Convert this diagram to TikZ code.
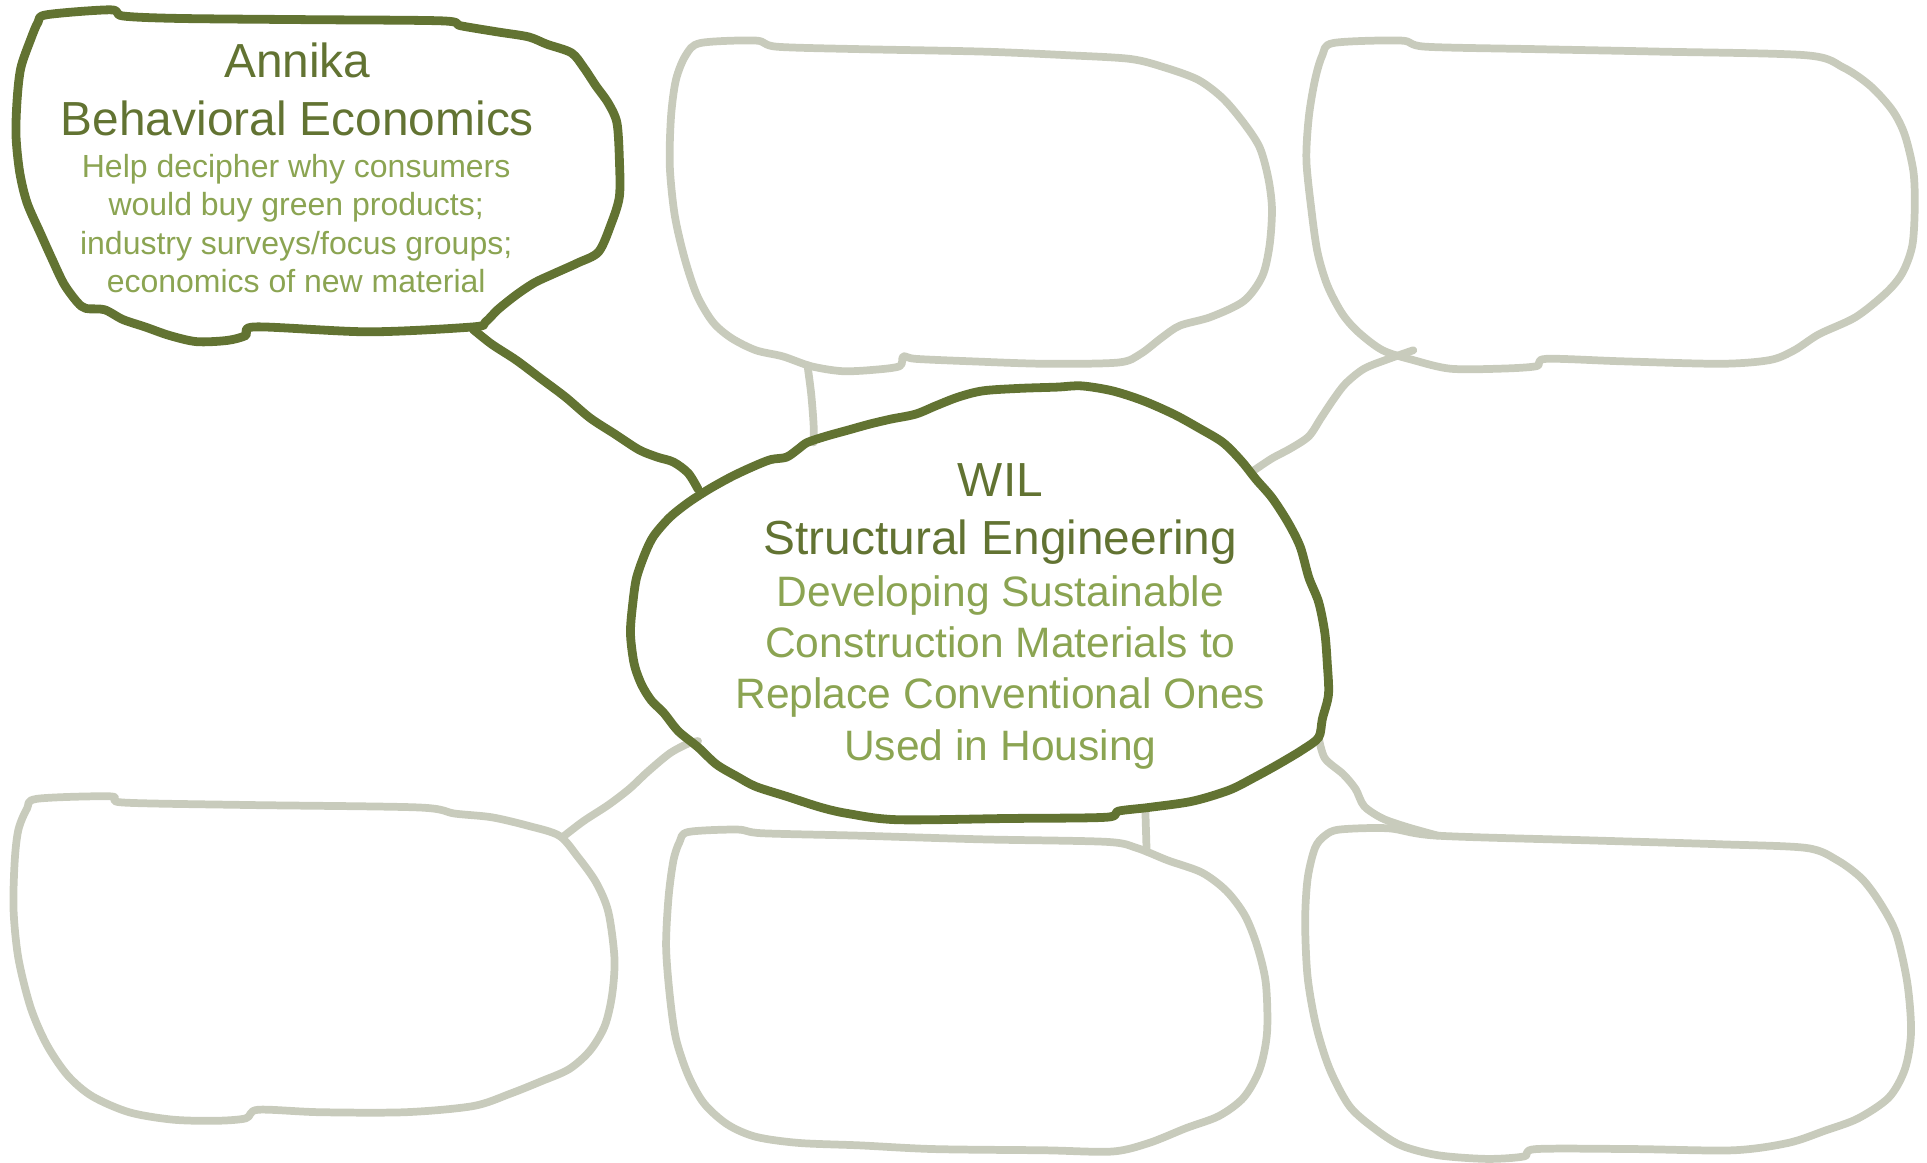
\documentclass[tikz,border=0pt]{standalone}
\usepackage{fontspec}
\setmainfont{Liberation Sans}
\usepackage{tikz}
\definecolor{olive}{RGB}{98,115,50}
\definecolor{leaf}{RGB}{139,164,82}
\definecolor{ash}{RGB}{200,203,188}

\begin{document}
\begin{tikzpicture}[x=0.01229cm,y=-0.01229cm,
    darkline/.style={olive,line width=2.5pt,line join=round,line cap=round},
    greyline/.style={ash,line width=2.2pt,line join=round,line cap=round},
    titletext/.style={olive,align=center,inner sep=0pt,font=\fontsize{13.6}{16.6}\selectfont},
    subtext/.style={leaf,align=center,inner sep=0pt}]
      \useasboundingbox (0,0) rectangle (1568,946);
      % empty boxes
      \draw[greyline] plot[smooth cycle] coordinates {(570,35) (615,33) (632,38) (700,40) (800,42) (870,45) (920,48) (948,55) (975,65) (995,80) (1012,100) (1025,120) (1032,145) (1035,170) (1033,200) (1027,225) (1012,245) (985,258) (960,265) (945,275) (928,288) (910,295) (850,296) (790,294) (745,292) (735,290) (732,298) (710,301) (685,302) (660,298) (637,290) (615,285) (595,275) (580,262) (567,240) (557,210) (549,175) (545,135) (546,95) (550,65) (558,45)};
      \draw[greyline] plot[smooth cycle] coordinates {(1085,35) (1140,33) (1160,38) (1250,40) (1350,42) (1470,45) (1500,55) (1522,70) (1540,90) (1550,110) (1557,140) (1558,170) (1556,200) (1548,222) (1535,238) (1510,258) (1480,272) (1460,285) (1440,293) (1400,296) (1320,294) (1258,292) (1250,298) (1220,300) (1180,300) (1150,293) (1125,285) (1105,270) (1092,255) (1080,232) (1072,205) (1067,170) (1063,130) (1065,95) (1070,65) (1076,45)};
      \draw[greyline] plot[smooth cycle] coordinates {(30,650) (90,648) (100,653) (200,655) (340,657) (370,662) (400,665) (430,672) (455,680) (470,697) (485,718) (495,742) (500,780) (498,810) (492,835) (480,855) (463,870) (440,880) (415,890) (385,900) (330,905) (260,905) (210,903) (200,910) (175,912) (140,911) (105,905) (75,892) (55,875) (38,850) (25,820) (15,780) (11,740) (12,700) (15,675) (22,658)};
      \draw[greyline] plot[smooth cycle] coordinates {(560,677) (600,675) (620,678) (700,680) (800,683) (900,685) (925,690) (950,700) (978,710) (998,725) (1013,745) (1023,770) (1030,800) (1031,840) (1025,870) (1012,893) (992,908) (965,918) (935,930) (905,937) (850,936) (760,935) (700,932) (650,930) (615,925) (592,915) (573,898) (560,875) (550,845) (545,810) (542,770) (544,730) (548,700) (553,685)};
      \draw[greyline] plot[smooth cycle] coordinates {(1090,675) (1130,674) (1170,680) (1300,684) (1400,687) (1470,690) (1495,700) (1515,715) (1530,735) (1543,760) (1552,800) (1555,840) (1550,870) (1537,893) (1512,910) (1485,920) (1455,930) (1410,936) (1330,935) (1250,935) (1240,941) (1210,943) (1170,940) (1140,932) (1118,918) (1098,900) (1082,870) (1071,835) (1064,795) (1062,750) (1064,715) (1070,690) (1078,680)};
      % link ends
      \coordinate (topmidEnd) at (657,297);
      \coordinate (toprightEnd) at (1150,285);
      \coordinate (botleftEnd) at (458,681);
      \coordinate (botmidEnd) at (933,693);
      \coordinate (botrightEnd) at (1170,680);
      \coordinate (annikaEnd) at (385,268);
      \coordinate (wilNW) at (568,398);
      \coordinate (wilN) at (662,360);
      \coordinate (wilNE) at (1020,383);
      \coordinate (wilSW) at (568,603);
      \coordinate (wilS) at (932,660);
      \coordinate (wilSE) at (1073,600);
      \draw[greyline] plot[smooth] coordinates {(topmidEnd) (660,320) (662,345) (wilN)};
      \draw[greyline] plot[smooth] coordinates {(toprightEnd) (1130,292) (1110,300) (1095,312) (1085,325) (1075,340) (1065,355) (1050,365) (1035,373) (wilNE)};
      \draw[greyline] plot[smooth] coordinates {(botleftEnd) (475,668) (495,655) (512,642) (527,628) (545,613) (560,605) (wilSW)};
      \draw[greyline] (wilS)--(botmidEnd);
      \draw[greyline] plot[smooth] coordinates {(wilSE) (1078,617) (1093,630) (1103,642) (1110,656) (1125,666) (1145,673) (botrightEnd)};
      % Annika
      \draw[darkline] plot[smooth cycle] coordinates {(38,12) (90,8) (100,13) (145,15) (250,16) (360,17) (375,21) (405,26) (430,30) (445,36) (465,43) (475,55) (485,70) (495,84) (502,100) (504,130) (504,160) (497,183) (487,205) (470,214) (450,223) (435,230) (420,240) (405,252) (395,262) (385,266) (300,270) (208,266) (200,273) (185,277) (160,278) (138,273) (118,266) (100,260) (85,252) (70,251) (63,246) (52,231) (42,210) (33,190) (22,165) (16,140) (13,110) (14,80) (17,55) (25,32) (31,18)};
      \draw[darkline] plot[smooth] coordinates {(annikaEnd) (400,280) (420,293) (440,308) (460,323) (480,340) (500,353) (520,366) (535,372) (548,376) (560,385) (wilNW)};
      % WIL
      \draw[darkline] plot[smooth cycle] coordinates {(860,315) (880,314) (905,318) (930,326) (955,337) (975,348) (995,360) (1010,375) (1022,390) (1035,405) (1048,425) (1058,445) (1065,470) (1073,490) (1078,515) (1080,540) (1081,565) (1076,585) (1073,600) (1060,610) (1040,622) (1020,633) (1000,643) (970,652) (935,657) (910,660) (900,665) (820,666) (730,667) (690,662) (668,657) (640,648) (615,640) (600,632) (583,622) (568,608) (552,595) (540,580) (530,570) (522,557) (516,540) (513,515) (515,490) (518,470) (525,450) (532,436) (545,421) (560,409) (577,398) (595,388) (612,380) (627,374) (640,372) (650,365) (657,360) (672,355) (690,350) (708,345) (725,341) (745,337) (762,330) (780,323) (800,318) (830,316)};
      \node[titletext] (annikaTitle) at (242,73) {Annika\\Behavioral Economics};
      \node[subtext,font=\fontsize{9.1}{10.9}\selectfont] (annikaNotes) at (241,182) {Help decipher why consumers\\would buy green products;\\industry surveys/focus groups;\\economics of new material};
      \node[titletext] (wilTitle) at (814,418) {WIL\\Structural Engineering};
      \node[subtext,font=\fontsize{12.1}{14.6}\selectfont] (wilNotes) at (814,547) {Developing Sustainable\\Construction Materials to\\Replace Conventional Ones\\Used in Housing};
    \end{tikzpicture}
\end{document}
